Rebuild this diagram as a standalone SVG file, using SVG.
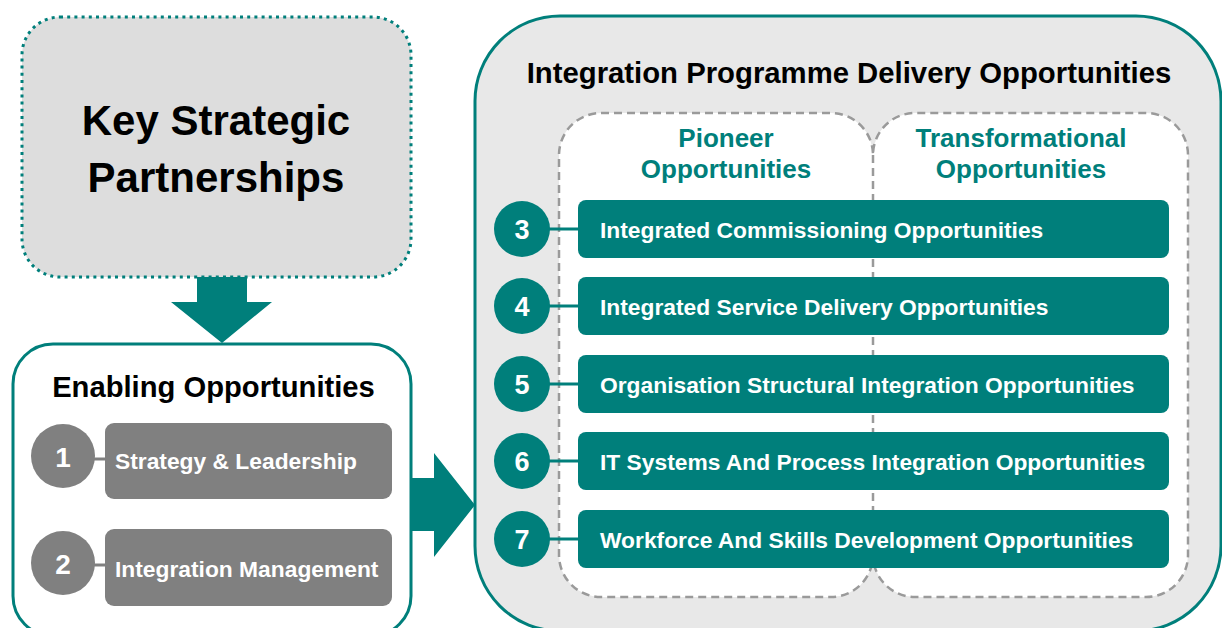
<svg xmlns="http://www.w3.org/2000/svg" width="1222" height="628" viewBox="0 0 1222 628">
<style>
text{font-family:"Liberation Sans",Arial,sans-serif;font-weight:bold}
.dark{fill:#000}
.teal{fill:#007F7B}
.wt{fill:#fff}
.mid{text-anchor:middle}
.row{fill:#007F7B}
.gbox{fill:#808080}
.tline{stroke:#007F7B;stroke-width:3}
.gline{stroke:#808080;stroke-width:3}
</style>
<rect width="1222" height="628" fill="#fff"/>
<g id="key-strategic-partnerships">
<rect x="22" y="17" width="389" height="260" rx="38" fill="#DDDDDD" stroke="#007F7B" stroke-width="3" stroke-dasharray="3 4.2"/>
<text class="dark mid" x="216" y="135" font-size="42">Key Strategic</text>
<text class="dark mid" x="216" y="192" font-size="42">Partnerships</text>
</g>
<g id="enabling-opportunities">
<rect x="13" y="344" width="398" height="292" rx="40" fill="#fff" stroke="#007F7B" stroke-width="3"/>
<text class="dark mid" x="213.5" y="397" font-size="29.2">Enabling Opportunities</text>
</g>
<g id="integration-programme">
<rect x="475" y="16" width="746" height="615" rx="85" fill="#E8E8E8" stroke="#007F7B" stroke-width="3"/>
<text class="dark mid" x="849" y="83" font-size="29.3">Integration Programme Delivery Opportunities</text>
</g>
<g id="opportunity-columns">
<path d="M601 113 H831 A42 42 0 0 1 873 155 A42 42 0 0 1 915 113 H1146 A42 42 0 0 1 1188 155 V555 A42 42 0 0 1 1146 597 H915 A42 42 0 0 1 873 555 A42 42 0 0 1 831 597 H601 A42 42 0 0 1 559 555 V155 A42 42 0 0 1 601 113 Z" fill="#fff" stroke="#9A9A9A" stroke-width="2.5" stroke-dasharray="8 5"/>
<line x1="873" y1="155" x2="873" y2="555" stroke="#9A9A9A" stroke-width="2.5" stroke-dasharray="8 5"/>
<text class="teal mid" x="726" y="147" font-size="26">Pioneer</text>
<text class="teal mid" x="726" y="178" font-size="26">Opportunities</text>
<text class="teal mid" x="1021" y="147" font-size="26">Transformational</text>
<text class="teal mid" x="1021" y="178" font-size="26">Opportunities</text>
</g>
<g id="connectors">
<polygon points="197,277 247,277 247,302 272,302 222,343 171,302 197,302" fill="#007F7B"/>
<polygon points="411,478 434,478 434,453 475,505 434,557 434,531 411,531" fill="#007F7B"/>
<line class="gline" x1="94" y1="459" x2="106" y2="459"/>
<line class="gline" x1="94" y1="565" x2="106" y2="565"/>
<line class="tline" x1="549" y1="229" x2="579" y2="229"/>
<line class="tline" x1="549" y1="306" x2="579" y2="306"/>
<line class="tline" x1="549" y1="384" x2="579" y2="384"/>
<line class="tline" x1="549" y1="461" x2="579" y2="461"/>
<line class="tline" x1="549" y1="539" x2="579" y2="539"/>
</g>
<g id="node-1">
<circle cx="63" cy="456" r="32" fill="#808080"/>
<text class="wt mid" x="63" y="467" font-size="28">1</text>
<rect class="gbox" x="105" y="423" width="287" height="76" rx="9"/>
<text class="wt" x="115" y="469" font-size="22.8">Strategy &amp; Leadership</text>
</g>
<g id="node-2">
<circle cx="63" cy="563" r="32" fill="#808080"/>
<text class="wt mid" x="63" y="574" font-size="28">2</text>
<rect class="gbox" x="105" y="529" width="287" height="77" rx="9"/>
<text class="wt" x="115" y="577" font-size="22.8">Integration Management</text>
</g>
<g id="node-3">
<circle cx="522" cy="229" r="28" fill="#007F7B"/>
<text class="wt mid" x="522" y="239" font-size="27">3</text>
<rect class="row" x="578" y="200" width="591" height="58" rx="8"/>
<text class="wt" x="600" y="238" font-size="22.8">Integrated Commissioning Opportunities</text>
</g>
<g id="node-4">
<circle cx="522" cy="306" r="28" fill="#007F7B"/>
<text class="wt mid" x="522" y="316" font-size="27">4</text>
<rect class="row" x="578" y="277" width="591" height="58" rx="8"/>
<text class="wt" x="600" y="315" font-size="22.8">Integrated Service Delivery Opportunities</text>
</g>
<g id="node-5">
<circle cx="522" cy="384" r="28" fill="#007F7B"/>
<text class="wt mid" x="522" y="394" font-size="27">5</text>
<rect class="row" x="578" y="355" width="591" height="58" rx="8"/>
<text class="wt" x="600" y="393" font-size="22.8">Organisation Structural Integration Opportunities</text>
</g>
<g id="node-6">
<circle cx="522" cy="461" r="28" fill="#007F7B"/>
<text class="wt mid" x="522" y="471" font-size="27">6</text>
<rect class="row" x="578" y="432" width="591" height="58" rx="8"/>
<text class="wt" x="600" y="470" font-size="22.8">IT Systems And Process Integration Opportunities</text>
</g>
<g id="node-7">
<circle cx="522" cy="539" r="28" fill="#007F7B"/>
<text class="wt mid" x="522" y="549" font-size="27">7</text>
<rect class="row" x="578" y="510" width="591" height="58" rx="8"/>
<text class="wt" x="600" y="548" font-size="22.8">Workforce And Skills Development Opportunities</text>
</g>
</svg>
